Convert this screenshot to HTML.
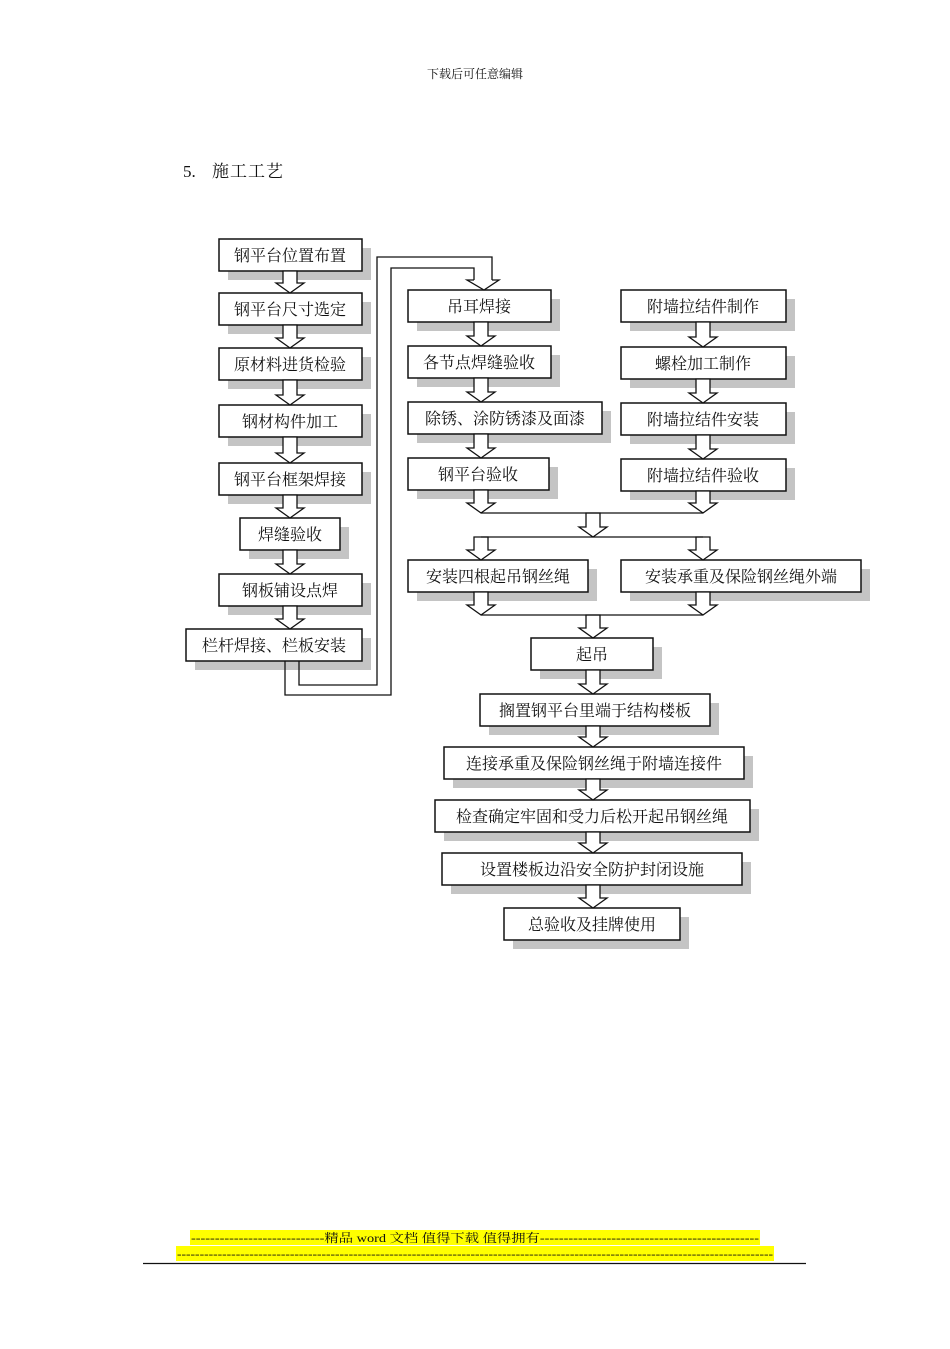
<!DOCTYPE html>
<html><head><meta charset="utf-8"><style>
body{margin:0;background:#fff;width:950px;height:1344px;overflow:hidden}
svg text{font-family:"Liberation Serif","Noto Serif CJK SC","Noto Sans CJK SC",serif;fill:#111}
</style></head><body>
<svg width="950" height="1344" viewBox="0 0 950 1344" xmlns="http://www.w3.org/2000/svg">
<text x="475" y="78" font-size="12" text-anchor="middle">下载后可任意编辑</text>
<text x="183" y="177" font-size="17">5.</text>
<text x="212" y="177" font-size="17" letter-spacing="1">施工工艺</text>

<g fill="#c4c4c4">
<rect x="228" y="248" width="143" height="32"/>
<rect x="228" y="302" width="143" height="32"/>
<rect x="228" y="357" width="143" height="32"/>
<rect x="228" y="414" width="143" height="32"/>
<rect x="228" y="472" width="143" height="32"/>
<rect x="249" y="527" width="100" height="32"/>
<rect x="228" y="583" width="143" height="32"/>
<rect x="195" y="638" width="176" height="32"/>
<rect x="417" y="299" width="143" height="32"/>
<rect x="417" y="355" width="143" height="32"/>
<rect x="417" y="411" width="194" height="32"/>
<rect x="417" y="467" width="141" height="32"/>
<rect x="630" y="299" width="165" height="32"/>
<rect x="630" y="356" width="165" height="32"/>
<rect x="630" y="412" width="165" height="32"/>
<rect x="630" y="468" width="165" height="32"/>
<rect x="417" y="569" width="180" height="32"/>
<rect x="630" y="569" width="240" height="32"/>
<rect x="540" y="647" width="122" height="32"/>
<rect x="489" y="703" width="230" height="32"/>
<rect x="453" y="756" width="300" height="32"/>
<rect x="444" y="809" width="315" height="32"/>
<rect x="451" y="862" width="300" height="32"/>
<rect x="513" y="917" width="176" height="32"/>
</g>

<g fill="#fff" stroke="#111" stroke-width="1.5">
<rect x="219" y="239" width="143" height="32"/>
<rect x="219" y="293" width="143" height="32"/>
<rect x="219" y="348" width="143" height="32"/>
<rect x="219" y="405" width="143" height="32"/>
<rect x="219" y="463" width="143" height="32"/>
<rect x="240" y="518" width="100" height="32"/>
<rect x="219" y="574" width="143" height="32"/>
<rect x="186" y="629" width="176" height="32"/>
<rect x="408" y="290" width="143" height="32"/>
<rect x="408" y="346" width="143" height="32"/>
<rect x="408" y="402" width="194" height="32"/>
<rect x="408" y="458" width="141" height="32"/>
<rect x="621" y="290" width="165" height="32"/>
<rect x="621" y="347" width="165" height="32"/>
<rect x="621" y="403" width="165" height="32"/>
<rect x="621" y="459" width="165" height="32"/>
<rect x="408" y="560" width="180" height="32"/>
<rect x="621" y="560" width="240" height="32"/>
<rect x="531" y="638" width="122" height="32"/>
<rect x="480" y="694" width="230" height="32"/>
<rect x="444" y="747" width="300" height="32"/>
<rect x="435" y="800" width="315" height="32"/>
<rect x="442" y="853" width="300" height="32"/>
<rect x="504" y="908" width="176" height="32"/>
</g>

<g font-size="16" text-anchor="middle">
<text x="290" y="261">钢平台位置布置</text>
<text x="290" y="315">钢平台尺寸选定</text>
<text x="290" y="370">原材料进货检验</text>
<text x="290" y="427">钢材构件加工</text>
<text x="290" y="485">钢平台框架焊接</text>
<text x="290" y="540">焊缝验收</text>
<text x="290" y="596">钢板铺设点焊</text>
<text x="274" y="651">栏杆焊接、栏板安装</text>
<text x="479" y="312">吊耳焊接</text>
<text x="479" y="368">各节点焊缝验收</text>
<text x="505" y="424">除锈、涂防锈漆及面漆</text>
<text x="478" y="480">钢平台验收</text>
<text x="703" y="312">附墙拉结件制作</text>
<text x="703" y="369">螺栓加工制作</text>
<text x="703" y="425">附墙拉结件安装</text>
<text x="703" y="481">附墙拉结件验收</text>
<text x="498" y="582">安装四根起吊钢丝绳</text>
<text x="741" y="582">安装承重及保险钢丝绳外端</text>
<text x="592" y="660">起吊</text>
<text x="595" y="716">搁置钢平台里端于结构楼板</text>
<text x="594" y="769">连接承重及保险钢丝绳于附墙连接件</text>
<text x="592" y="822">检查确定牢固和受力后松开起吊钢丝绳</text>
<text x="592" y="875">设置楼板边沿安全防护封闭设施</text>
<text x="592" y="930">总验收及挂牌使用</text>
</g>

<g fill="#fff" stroke="#111" stroke-width="1.3" stroke-linejoin="miter">
<polygon points="283,271 297,271 297,283 304,283 290,293 276,283 283,283"/>
<polygon points="283,325 297,325 297,338 304,338 290,348 276,338 283,338"/>
<polygon points="283,380 297,380 297,395 304,395 290,405 276,395 283,395"/>
<polygon points="283,437 297,437 297,453 304,453 290,463 276,453 283,453"/>
<polygon points="283,495 297,495 297,508 304,508 290,518 276,508 283,508"/>
<polygon points="283,550 297,550 297,564 304,564 290,574 276,564 283,564"/>
<polygon points="283,606 297,606 297,619 304,619 290,629 276,619 283,619"/>
<polygon points="474,322 488,322 488,336 495,336 481,346 467,336 474,336"/>
<polygon points="474,378 488,378 488,392 495,392 481,402 467,392 474,392"/>
<polygon points="474,434 488,434 488,448 495,448 481,458 467,448 474,448"/>
<polygon points="474,490 488,490 488,503 495,503 481,513 467,503 474,503"/>
<polygon points="696,322 710,322 710,337 717,337 703,347 689,337 696,337"/>
<polygon points="696,379 710,379 710,393 717,393 703,403 689,393 696,393"/>
<polygon points="696,435 710,435 710,449 717,449 703,459 689,449 696,449"/>
<polygon points="696,491 710,491 710,503 717,503 703,513 689,503 696,503"/>
<polygon points="586,513 600,513 600,527 607,527 593,537 579,527 586,527"/>
<polygon points="474,537 488,537 488,550 495,550 481,560 467,550 474,550"/>
<polygon points="696,537 710,537 710,550 717,550 703,560 689,550 696,550"/>
<polygon points="474,592 488,592 488,605 495,605 481,615 467,605 474,605"/>
<polygon points="696,592 710,592 710,605 717,605 703,615 689,605 696,605"/>
<polygon points="586,615 600,615 600,628 607,628 593,638 579,628 586,628"/>
<polygon points="586,670 600,670 600,684 607,684 593,694 579,684 586,684"/>
<polygon points="586,726 600,726 600,737 607,737 593,747 579,737 586,737"/>
<polygon points="586,779 600,779 600,790 607,790 593,800 579,790 586,790"/>
<polygon points="586,832 600,832 600,843 607,843 593,853 579,843 586,843"/>
<polygon points="586,885 600,885 600,898 607,898 593,908 579,898 586,898"/>
</g>
<g fill="none" stroke="#111" stroke-width="1.3">
<line x1="481" y1="513" x2="703" y2="513"/>
<line x1="481" y1="537" x2="703" y2="537"/>
<line x1="481" y1="615" x2="703" y2="615"/>
<path d="M299,661 V685 H377 V257 H492 V280"/>
<path d="M285,661 V695 H391 V268 H474 V280"/>
<path d="M492,280 H499 L484,290 L467,280 H474" fill="#fff"/>
</g>

<rect x="190" y="1230" width="570" height="15" fill="#ffff00"/>
<rect x="176" y="1246" width="598" height="15" fill="#ffff00"/>
<text x="475" y="1242" font-size="12" text-anchor="middle" textLength="568" lengthAdjust="spacingAndGlyphs">----------------------------精品 word 文档 值得下载 值得拥有----------------------------------------------</text>
<text x="475" y="1258" font-size="12" text-anchor="middle" textLength="596" lengthAdjust="spacingAndGlyphs">------------------------------------------------------------------------------------------------------------------------------------</text>
<line x1="143" y1="1263.5" x2="806" y2="1263.5" stroke="#111" stroke-width="1.2"/>
</svg>
</body></html>
